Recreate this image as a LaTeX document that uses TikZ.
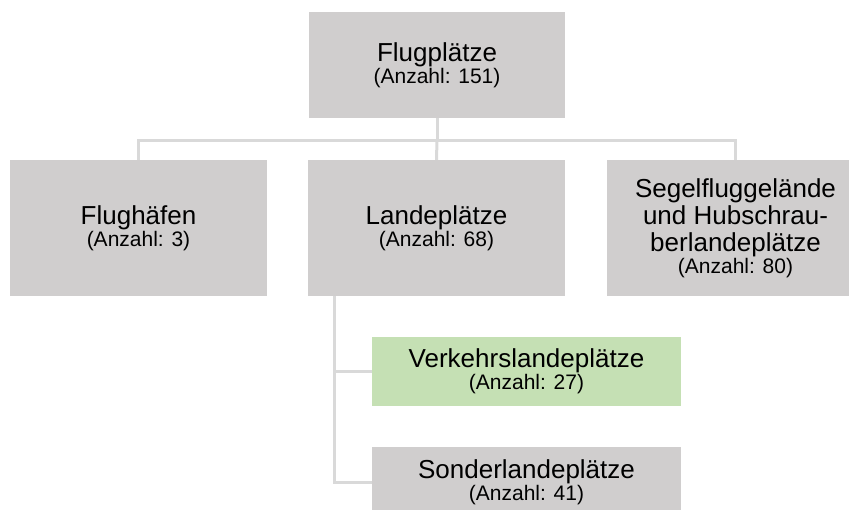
\documentclass[tikz,border=0pt]{standalone}
\usepackage{fontspec}
\setmainfont{Liberation Sans}
\definecolor{boxgray}{HTML}{D0CECE}
\definecolor{boxgreen}{HTML}{C5E0B4}
\definecolor{linegray}{HTML}{D9D9D9}
\newcommand{\cnt}[1]{{\fontsize{21}{23}\selectfont #1}}
\tikzset{
  box/.style={rectangle, fill=boxgray, inner sep=0pt, align=center,
    font=\fontsize{26}{27}\selectfont},
  conn/.style={draw=linegray, line width=3pt}
}
\begin{document}
\begin{tikzpicture}[x=1pt,y=-1pt]
\useasboundingbox (0,0) rectangle (849,509);
\node[box, minimum width=256, minimum height=106] (top) at (437,65) {Flugplätze\\[-5pt]\cnt{(Anzahl: 151)}};
\node[box, minimum width=257, minimum height=136] (flug) at (138.5,228) {Flughäfen\\[-5pt]\cnt{(Anzahl: 3)}};
\node[box, minimum width=257, minimum height=136] (lande) at (436.5,228) {Landeplätze\\[-5pt]\cnt{(Anzahl: 68)}};
\node[box, minimum width=257, minimum height=136] (segel) at (735.5,228) {Segelfluggelände\\und Hubschrau-\\berlandeplätze\\[-5pt]\cnt{(Anzahl: 80)}};
\node[box, fill=boxgreen, minimum width=309, minimum height=69] (verk) at (526.5,371.5) {Verkehrslandeplätze\\[-5pt]\cnt{(Anzahl: 27)}};
\node[box, minimum width=309, minimum height=71] (sonder) at (526.5,482.5) {Sonderlandeplätze\\[-5pt]\cnt{(Anzahl: 41)}};
\coordinate (hub) at (437,140);
\coordinate (trunk) at (334,296);
\draw[conn] (top.south) -- (hub);
\draw[conn] (flug.north) |- (hub) -| (segel.north);
\draw[conn] (hub) -- (lande.north);
\draw[conn] (trunk) |- (verk.west);
\draw[conn] (trunk) |- (sonder.west);
\end{tikzpicture}
\end{document}
